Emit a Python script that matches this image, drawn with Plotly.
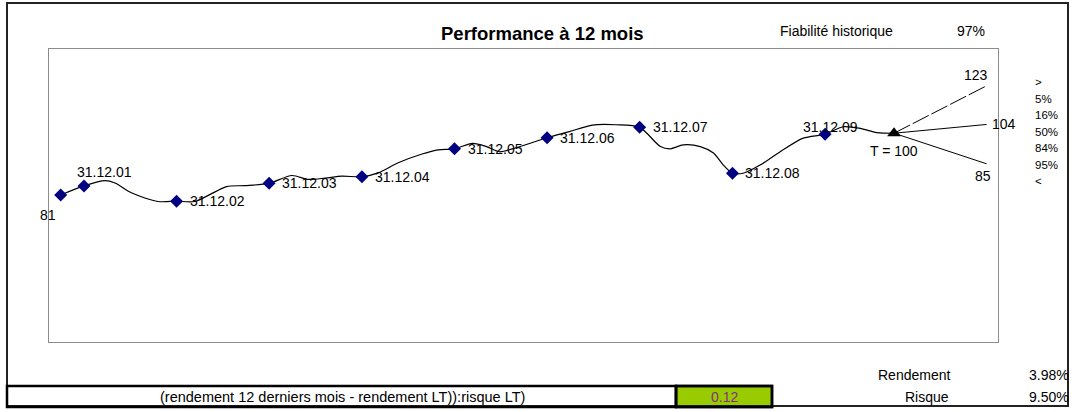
import plotly.graph_objects as go

W, H = 1080, 412

# series (value index, start = 81, T = 100)
curve_dates = [
    "2001-09-30", "2001-12-31", "2002-03-24", "2002-05-02", "2002-07-08", "2002-10-19",
    "2002-12-31", "2003-03-12", "2003-05-30", "2003-07-16", "2003-09-26", "2003-12-31",
    "2004-03-30", "2004-06-02", "2004-08-08", "2004-10-13", "2004-12-31", "2005-03-05",
    "2005-05-23", "2005-08-25", "2005-10-28", "2005-12-31", "2006-03-12", "2006-05-06",
    "2006-06-26", "2006-08-17", "2006-12-31", "2007-03-29", "2007-06-28", "2007-09-29",
    "2007-12-31", "2008-03-22", "2008-04-30", "2008-06-20", "2008-08-26", "2008-10-17",
    "2008-11-25", "2008-12-31", "2009-02-11", "2009-04-19", "2009-07-07", "2009-10-06",
    "2009-12-31", "2010-03-12", "2010-05-18", "2010-07-23", "2010-09-29",
]
curve_values = [
    81.0, 83.8, 85.4, 84.7, 81.6, 79.0,
    79.1, 79.0, 81.9, 83.6, 83.9, 84.6,
    87.0, 85.8, 86.2, 86.8, 86.6, 87.8,
    90.9, 93.6, 94.9, 95.2, 96.9, 95.9,
    94.3, 95.2, 98.6, 100.5, 102.5, 102.6,
    101.8, 95.9, 95.2, 96.4, 95.9, 93.9,
    90.2, 87.7, 87.7, 90.2, 94.3, 98.5,
    99.7, 102.0, 101.5, 100.2, 100.0,
]

marker_dates = ["2001-09-30", "2001-12-31", "2002-12-31", "2003-12-31", "2004-12-31",
                "2005-12-31", "2006-12-31", "2007-12-31", "2008-12-31", "2009-12-31"]
marker_values = [81.0, 83.8, 79.1, 84.6, 86.6, 95.2, 98.6, 101.8, 87.7, 99.7]
marker_labels = ["81", "31.12.01", "31.12.02", "31.12.03", "31.12.04",
                 "31.12.05", "31.12.06", "31.12.07", "31.12.08", "31.12.09"]

t_date, t_value = "2010-09-29", 100.0
fan_end_date = "2011-09-29"
fan_values = [114.6, 102.7, 90.6]
fan_labels = ["123", "104", "85"]
fan_dashes = ["18px,3px", "solid", "solid"]
quantile_labels = [">", "5%", "16%", "50%", "84%", "95%", "<"]

FONT = "Liberation Sans, Arial, sans-serif"


def px(x):
    return x / W


def py(y):
    return 1 - y / H


fig = go.Figure()

fig.add_trace(go.Scatter(
    x=curve_dates, y=curve_values, mode="lines",
    line=dict(color="black", width=1.2, shape="spline", smoothing=0.8),
    hoverinfo="skip",
))
fig.add_trace(go.Scatter(
    x=marker_dates, y=marker_values, mode="markers",
    marker=dict(symbol="diamond", size=10, color="#000080"),
))
for v, d in zip(fan_values, fan_dashes):
    fig.add_trace(go.Scatter(
        x=[t_date, fan_end_date], y=[t_value, v], mode="lines",
        line=dict(color="black", width=1, dash=d),
    ))
fig.add_trace(go.Scatter(
    x=[t_date], y=[t_value], mode="markers",
    marker=dict(symbol="triangle-up", size=12, color="black"),
))

# point labels: (xshift, yshift, xanchor)
label_pos = [(-13, -20, "center"), (20, 14, "center")] + [(11, 0, "left")] * 7 + [(5, 7, "center")]
annotations = []
for d, v, t, (dx, dy, xa) in zip(marker_dates, marker_values, marker_labels, label_pos):
    annotations.append(dict(x=d, y=v, text=t, xref="x", yref="y", showarrow=False,
                            xanchor=xa, yanchor="middle", xshift=dx, yshift=dy,
                            font=dict(size=14, color="black")))
annotations.append(dict(x=t_date, y=t_value, text="T = 100", showarrow=False,
                        xanchor="center", yanchor="middle", yshift=-18,
                        font=dict(size=14, color="black")))
for v, t, (dx, dy, xa) in zip(fan_values, fan_labels,
                              [(-11, 11, "center"), (3, 0, "left"), (-4, -12, "center")]):
    annotations.append(dict(x=fan_end_date, y=v, text=t, showarrow=False,
                            xanchor=xa, yanchor="middle", xshift=dx, yshift=dy,
                            font=dict(size=14, color="black")))

# quantile legend at the right
for i, t in enumerate(quantile_labels):
    annotations.append(dict(x=px(1033), y=py(82 + i * 16.5), xref="paper", yref="paper",
                            text=t, showarrow=False, xanchor="left", yanchor="middle",
                            font=dict(size=11.5, color="black")))


def txt(x, y, t, xa="left", size=14, color="black", bold=False):
    annotations.append(dict(x=px(x), y=py(y), xref="paper", yref="paper",
                            text=f"<b>{t}</b>" if bold else t, showarrow=False,
                            xanchor=xa, yanchor="middle",
                            font=dict(size=size, color=color)))


txt(542, 34, "Performance à 12 mois", xa="center", size=18.5, bold=True)
txt(778, 31, "Fiabilité historique")
txt(955, 31, "97%")
txt(876, 375, "Rendement")
txt(1071, 375, "3.98%", xa="right")
txt(903, 397, "Risque")
txt(1071, 397, "9.50%", xa="right")
txt(342, 397, "(rendement 12 derniers mois - rendement LT)):risque LT)", xa="center", size=14.5)
txt(724, 397, "0.12", xa="center", color="#862D86")

shapes = [
    # outer frame
    dict(type="rect", xref="paper", yref="paper", x0=px(7), x1=px(1068), y0=py(406), y1=py(3),
         line=dict(color="#222222", width=2)),
    # bottom row boxes
    dict(type="rect", xref="paper", yref="paper", x0=px(676), x1=px(772), y0=py(407), y1=py(386),
         fillcolor="#99CC00", line=dict(color="black", width=2.5), layer="below"),
    dict(type="rect", xref="paper", yref="paper", x0=px(7), x1=px(676), y0=py(407), y1=py(386),
         line=dict(color="black", width=2.5)),
    dict(type="rect", xref="paper", yref="paper", x0=px(676), x1=px(772), y0=py(407), y1=py(386),
         line=dict(color="black", width=2.5)),
]

axis_common = dict(showticklabels=False, showgrid=False, zeroline=False, ticks="",
                   showline=True, linecolor="#8C8C8C", linewidth=1, mirror=True)

fig.update_layout(
    width=W, height=H, autosize=False,
    margin=dict(l=0, r=0, t=0, b=0),
    paper_bgcolor="white", plot_bgcolor="white",
    showlegend=False,
    font=dict(family=FONT, size=14, color="black"),
    xaxis=dict(domain=[49 / W, 998 / W], type="date",
               range=["2001-08-15", "2011-11-13"], **axis_common),
    yaxis=dict(domain=[1 - 342 / H, 1 - 49 / H], range=[35.8, 125.9], **axis_common),
    annotations=annotations,
    shapes=shapes,
)

# the page body has a default 8px margin; drop it so the figure sits at the corner
fig.write_html("out.html", config={"displayModeBar": False},
               post_script="document.body.style.margin='0px';")
